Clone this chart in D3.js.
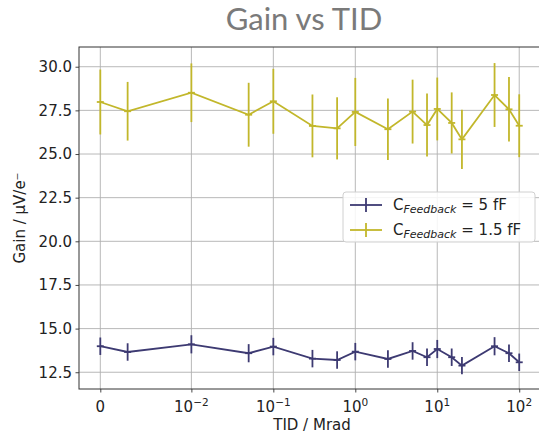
<!DOCTYPE html>
<html>
<head>
<meta charset="utf-8">
<script src="https://cdn.jsdelivr.net/npm/d3@7"></script>
<style>
  body { margin: 0; background: #fff; }
  svg { display: block; }
</style>
</head>
<body>
<svg id="chart"></svg>
<script>
const width = 539;
const height = 435;

// data
const tid = [0, 0.003, 0.01, 0.05, 0.1, 0.3, 0.6, 1, 2.5, 5, 7.5, 10, 15, 20, 50, 75, 100];
const gain5 = [13.99, 13.66, 14.1, 13.59, 13.97, 13.28, 13.2, 13.68, 13.26, 13.72, 13.36, 13.83, 13.36, 12.88, 13.99, 13.59, 13.07];
const err5 = [0.5, 0.5, 0.52, 0.52, 0.5, 0.5, 0.5, 0.5, 0.5, 0.5, 0.5, 0.52, 0.5, 0.5, 0.52, 0.5, 0.5];
const gain15 = [27.98, 27.45, 28.51, 27.25, 28.02, 26.61, 26.47, 27.41, 26.42, 27.43, 26.66, 27.58, 26.78, 25.84, 28.38, 27.56, 26.62];
const err15 = [1.86, 1.68, 1.68, 1.83, 1.86, 1.8, 1.78, 1.95, 1.76, 1.83, 1.8, 1.8, 1.75, 1.7, 1.83, 1.85, 1.8];
const xTicks = [0, 0.01, 0.1, 1, 10, 100];
const xTickExp = [null, '\u22122', '\u22121', '0', '1', '2'];
const yTicks = [12.5, 15, 17.5, 20, 22.5, 25, 27.5, 30];

const series = [
  {name: '5 fF', color: '#3d3a72', y: gain5, e: err5},
  {name: '1.5 fF', color: '#c2b72b', y: gain15, e: err15}
];

const pLeft = 79, pRight = 547, pTop = 47, pBottom = 389;
const fs = 15;

// matplotlib-like symlog, linthresh 0.01, linscale 1
const linthresh = 0.01;
const linscale = 1 / (1 - 1 / 10);
function symlog(v) {
  if (v <= linthresh) return v / linthresh * linscale;
  return linscale + Math.log10(v / linthresh);
}

const xT = d3.scaleLinear().domain([-0.26, 5.45]).range([pLeft, pRight]);
const x = v => xT(symlog(v));
const y = d3.scaleLinear().domain([11.54, 31.13]).range([pBottom, pTop]);

const svg = d3.select('#chart').attr('width', width).attr('height', height);

// grid
const grid = svg.append('g').attr('stroke', '#b0b0b0').attr('stroke-width', 0.9);
xTicks.forEach(t => grid.append('line')
  .attr('x1', x(t)).attr('x2', x(t)).attr('y1', pTop).attr('y2', pBottom));
yTicks.forEach(t => grid.append('line')
  .attr('x1', pLeft).attr('x2', pRight).attr('y1', y(t)).attr('y2', y(t)));

// axes
const yAxis = svg.append('g').attr('transform', `translate(${pLeft},0)`)
  .call(d3.axisLeft(y).tickValues(yTicks).tickFormat(d3.format('.1f')).tickSize(3.5).tickPadding(3.5));
const xAxis = svg.append('g').attr('transform', `translate(0,${pBottom})`)
  .call(d3.axisBottom(xT).tickValues(xTicks.map(symlog)).tickFormat('').tickSize(3.5));

[xAxis, yAxis].forEach(a => {
  a.select('.domain').remove();
  a.selectAll('.tick line').attr('stroke', '#333').attr('stroke-width', 0.9);
  a.selectAll('text').attr('font-family', 'DejaVu Sans').attr('font-size', fs).attr('fill', '#222');
});

// x tick labels with powers of ten
xTicks.forEach((t, i) => {
  const txt = svg.append('text')
    .attr('x', x(t)).attr('y', pBottom + 23)
    .attr('text-anchor', 'middle')
    .attr('font-family', 'DejaVu Sans').attr('font-size', fs).attr('fill', '#222');
  if (xTickExp[i] === null) {
    txt.text('0');
  } else {
    txt.append('tspan').text('10');
    txt.append('tspan').attr('dy', -6).attr('font-size', 10.5).text(xTickExp[i]);
  }
});

// frame
svg.append('rect')
  .attr('x', pLeft).attr('y', pTop).attr('width', pRight - pLeft).attr('height', pBottom - pTop)
  .attr('fill', 'none').attr('stroke', '#333').attr('stroke-width', 1);

// data
series.forEach(s => {
  const g = svg.append('g');
  const pts = tid.map((t, i) => ({t: t, v: s.y[i], e: s.e[i]}));
  g.append('path').datum(pts)
    .attr('fill', 'none').attr('stroke', s.color).attr('stroke-width', 1.8)
    .attr('d', d3.line().x(d => x(d.t)).y(d => y(d.v)));
  g.selectAll('line.err').data(pts).enter().append('line')
    .attr('x1', d => x(d.t)).attr('x2', d => x(d.t))
    .attr('y1', d => y(d.v - d.e)).attr('y2', d => y(d.v + d.e))
    .attr('stroke', s.color).attr('stroke-width', 1.8);
  g.selectAll('line.mk').data(pts).enter().append('line')
    .attr('x1', d => x(d.t) - 3.5).attr('x2', d => x(d.t) + 3.5)
    .attr('y1', d => y(d.v)).attr('y2', d => y(d.v))
    .attr('stroke', s.color).attr('stroke-width', 1.8);
});

// legend
const lg = svg.append('g');
lg.append('rect')
  .attr('x', 343).attr('y', 192).attr('width', 192).attr('height', 50).attr('rx', 3)
  .attr('fill', 'rgba(255,255,255,0.85)').attr('stroke', '#d0d0d0');
series.forEach((s, i) => {
  const ly = 205 + i * 25;
  lg.append('line').attr('x1', 350).attr('x2', 382).attr('y1', ly).attr('y2', ly)
    .attr('stroke', s.color).attr('stroke-width', 1.8);
  lg.append('line').attr('x1', 366).attr('x2', 366).attr('y1', ly - 7).attr('y2', ly + 7)
    .attr('stroke', s.color).attr('stroke-width', 1.8);
  const txt = lg.append('text').attr('x', 393).attr('y', ly + 5)
    .attr('font-family', 'DejaVu Sans').attr('font-size', fs).attr('fill', '#222');
  txt.append('tspan').text('C');
  txt.append('tspan').attr('dy', 3).attr('font-size', 11).attr('font-style', 'italic').text('Feedback');
  txt.append('tspan').attr('dy', -3).text(' = ' + s.name);
});

// labels
svg.append('text')
  .attr('x', 312).attr('y', 430).attr('text-anchor', 'middle')
  .attr('font-family', 'DejaVu Sans').attr('font-size', fs).attr('fill', '#222')
  .text('TID / Mrad');
svg.append('text')
  .attr('transform', `translate(25,218) rotate(-90)`).attr('text-anchor', 'middle')
  .attr('font-family', 'DejaVu Sans').attr('font-size', fs).attr('fill', '#222')
  .text('Gain / \u03bcV/e\u207b');
svg.append('text')
  .attr('x', 304).attr('y', 30).attr('text-anchor', 'middle')
  .attr('font-family', 'Lato').attr('font-size', 31).attr('fill', '#7a7a7a')
  .text('Gain vs TID');
</script>
</body>
</html>
